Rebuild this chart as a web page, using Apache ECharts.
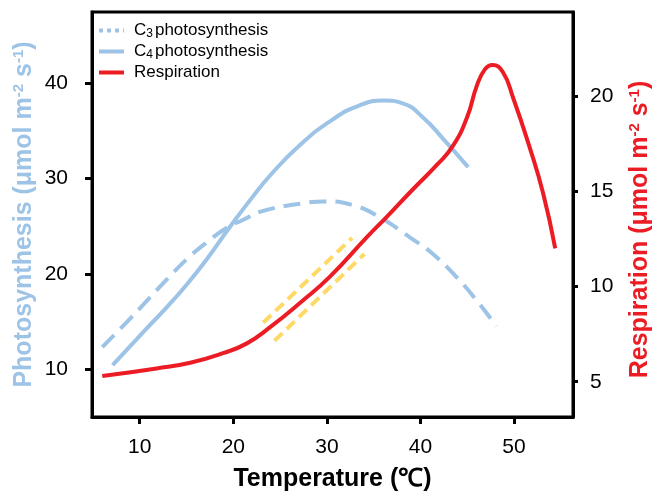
<!DOCTYPE html>
<html>
<head>
<meta charset="utf-8">
<script src="https://cdn.jsdelivr.net/npm/echarts@6/dist/echarts.min.js"></script>
<style>
  html, body { margin: 0; padding: 0; background: #fff; }
  #chart { width: 652px; height: 491px; }
</style>
</head>
<body>
<div id="chart"></div>
<script>
// temperature (°C) and values
var c3Temp = [6.0, 8.7, 10.9, 12.9, 15.1, 17.3, 19.1, 20.9, 23.2, 27.4, 29.8, 32.8, 35.7, 38.9, 41.3, 43.9, 46.0, 48.1];
var c3Photo = [12.3, 15.0, 17.3, 19.4, 21.6, 23.4, 24.7, 25.6, 26.6, 27.4, 27.6, 27.2, 25.9, 23.8, 22.1, 19.6, 17.2, 14.5];

var c4Temp = [7.1, 10.5, 13.0, 15.1, 17.3, 19.4, 22.0, 24.0, 27.1, 30.6, 33.5, 36.0, 38.1, 40.3, 42.4, 45.1];
var c4Photo = [10.4, 14.0, 16.6, 18.95, 21.7, 24.6, 28.0, 30.4, 33.5, 36.2, 37.7, 38.2, 37.9, 36.4, 34.2, 31.2];

var respTemp = [6.0, 11.8, 15.4, 18.9, 21.4, 23.9, 27.4, 30.3, 34.3, 36.4, 39.2, 41.8, 43.5, 45.0, 46.0, 46.9, 47.7, 48.8, 49.9, 51.6, 53.1, 54.4];
var respRate = [5.3, 5.7, 6.0, 6.5, 7.0, 7.85, 9.25, 10.5, 12.6, 13.65, 15.1, 16.4, 17.4, 18.9, 20.5, 21.4, 21.62, 21.25, 19.9, 17.4, 14.9, 12.0];

var yellowUpT = [23.2, 32.7];
var yellowUpR = [8.1, 12.55];
var yellowLoT = [24.4, 34.0];
var yellowLoR = [7.15, 11.7];

var xTicks = [10, 20, 30, 40, 50];
var leftTicks = [10, 20, 30, 40];
var rightTicks = [5, 10, 15, 20];

var blue = '#9dc3e6';
var red = '#ec1c24';
var yellow = '#ffd966';
var font = 'Arial, "Liberation Sans", sans-serif';

function pairs(xs, ys) {
  return xs.map(function (x, i) { return [x, ys[i]]; });
}

var chart = echarts.init(document.getElementById('chart'));

var nameRich = function (color) {
  return {
    t: { fontSize: 25, fontWeight: 'bold', color: color, fontFamily: font },
    s: { fontSize: 15, fontWeight: 'bold', color: color, fontFamily: font, verticalAlign: 'top', padding: [0, 0, 11, 0] }
  };
};

var option = {
  animation: false,
  grid: {
    left: 92, right: 79, top: 12, bottom: 74,
    outerBoundsMode: 'none',
    show: true, borderColor: '#000', borderWidth: 3
  },
  legend: {
    orient: 'vertical',
    left: 92, top: 17,
    itemWidth: 25, itemHeight: 10, itemGap: 3,
    textStyle: {
      fontFamily: font, fontSize: 17, color: '#000', padding: [0, 0, 0, 5],
      rich: {
        a: { fontSize: 17, fontFamily: font, color: '#000' },
        s: { fontSize: 12, fontFamily: font, color: '#000', verticalAlign: 'bottom', padding: [7, 2, 0, 0] }
      }
    },
    data: [
      { name: 'C3', itemStyle: { opacity: 0 }, lineStyle: { type: [4, 4], width: 4 } },
      { name: 'C4', itemStyle: { opacity: 0 }, lineStyle: { width: 4 } },
      { name: 'Respiration', itemStyle: { opacity: 0 }, lineStyle: { width: 4 } }
    ],
    formatter: function (n) {
      if (n === 'C3') return '{a|C}{s|3}{a|photosynthesis}';
      if (n === 'C4') return '{a|C}{s|4}{a|photosynthesis}';
      return '{a|Respiration}';
    }
  },
  xAxis: {
    type: 'value', min: 4.9, max: 56.3,
    name: 'Temperature (℃)', nameLocation: 'middle', nameGap: 50, nameMoveOverlap: false,
    nameTextStyle: { fontSize: 25, fontWeight: 'bold', color: '#000', fontFamily: font },
    axisLine: { show: true, lineStyle: { color: '#000', width: 3 } },
    axisTick: { show: true, inside: false, length: 7, lineStyle: { color: '#000', width: 3 }, customValues: xTicks },
    axisLabel: { fontSize: 21, color: '#000', fontFamily: font, margin: 20, customValues: xTicks },
    splitLine: { show: false }
  },
  yAxis: [
    {
      type: 'value', min: 4.95, max: 47.5, position: 'left',
      name: '{t|Photosynthesis (μmol m}{s|-2}{t| s}{s|-1}{t|)}',
      nameLocation: 'middle', nameGap: 55, nameRotate: 90, nameMoveOverlap: false,
      nameTextStyle: { rich: nameRich(blue) },
      axisLine: { show: true, lineStyle: { color: '#000', width: 3 } },
      axisTick: { show: true, length: 7, lineStyle: { color: '#000', width: 3 }, customValues: leftTicks },
      axisLabel: { fontSize: 21, color: '#000', fontFamily: font, margin: 24, customValues: leftTicks },
      splitLine: { show: false }
    },
    {
      type: 'value', min: 3.15, max: 24.4, position: 'right',
      name: '{t|Respiration (μmol m}{s|-2}{t| s}{s|-1}{t|)}',
      nameLocation: 'middle', nameGap: 54, nameRotate: 90, nameMoveOverlap: false,
      nameTextStyle: { rich: nameRich(red), padding: [0, 30, 0, 0] },
      axisLine: { show: true, lineStyle: { color: '#000', width: 3 } },
      axisTick: { show: true, length: 5, lineStyle: { color: '#000', width: 3 }, customValues: rightTicks },
      axisLabel: { fontSize: 21, color: '#000', fontFamily: font, margin: 17, customValues: rightTicks },
      splitLine: { show: false }
    }
  ],
  series: [
    {
      name: 'C3', type: 'line', yAxisIndex: 0, smooth: 0.5, symbol: 'none',
      data: pairs(c3Temp, c3Photo),
      lineStyle: { color: blue, width: 4, type: [17, 9] },
      itemStyle: { color: blue }, z: 2
    },
    {
      name: 'C4', type: 'line', yAxisIndex: 0, smooth: 0.5, symbol: 'none',
      data: pairs(c4Temp, c4Photo),
      lineStyle: { color: blue, width: 4 },
      itemStyle: { color: blue }, z: 2
    },
    {
      name: 'Respiration', type: 'line', yAxisIndex: 1, smooth: 0.5, symbol: 'none',
      data: pairs(respTemp, respRate),
      lineStyle: { color: red, width: 4 },
      itemStyle: { color: red }, z: 3
    },
    {
      name: 'upper', type: 'line', yAxisIndex: 1, symbol: 'none',
      data: pairs(yellowUpT, yellowUpR),
      lineStyle: { color: yellow, width: 4, type: [11, 6] }, z: 1
    },
    {
      name: 'lower', type: 'line', yAxisIndex: 1, symbol: 'none',
      data: pairs(yellowLoT, yellowLoR),
      lineStyle: { color: yellow, width: 4, type: [11, 6] }, z: 1
    }
  ]
};

chart.setOption(option);
</script>
</body>
</html>
